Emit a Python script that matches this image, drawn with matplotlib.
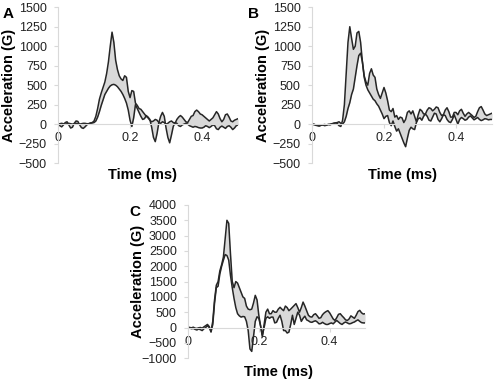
import numpy as np
import matplotlib
matplotlib.use("Agg")
import matplotlib.pyplot as plt

plt.rcParams['font.family'] = ['Liberation Sans', 'DejaVu Sans']

# time axis (ms), 0.005 ms steps
t = np.round(np.arange(0, 0.5001, 0.005), 3)

# panel A
a_peak = [0, -20, -35, -10, 20, 30, -10, -50, -40, 10,
          40, 35, -10, -45, -55, -35, -10, 5, 15, 20,
          40, 100, 200, 320, 400, 470, 540, 650, 800, 1000,
          1180, 1050, 820, 700, 620, 580, 560, 620, 600, 420,
          340, 430, 420, 270, 240, 200, 190, 160, 130, 100,
          80, 50, 30, 40, 60, 50, 20, 10, 30, 20,
          0, 10, 30, 40, 20, 10, 60, 90, 110, 90,
          60, 30, 20, 60, 100, 110, 160, 180, 160, 130,
          120, 100, 80, 60, 40, 60, 80, 120, 160, 130,
          70, 30, 60, 120, 130, 90, 40, 30, 50, 60, 70]
a_low = [0, 5, 10, 5, 0, 5, 10, 5, 0, 5,
         10, 5, 0, 5, 10, 10, 5, 5, 10, 15,
         20, 40, 90, 160, 240, 310, 380, 420, 460, 490,
         505, 510, 500, 480, 450, 420, 380, 330, 270, 180,
         50, -30, 80, 250, 200, 150, 100, 60, 70, 110,
         90, 60, -40, -170, -225, -120, 20, 100, 150, 100,
         -50, -170, -240, -140, -30, 20, 10, -20, -30, -10,
         0, 10, 0, -20, -30, -40, -30, -35, -45, -50,
         -50, -40, -20, -30, -45, -30, -10, -20, -60, -70,
         -40, -25, -40, -55, -30, -20, -40, -70, -50, -20, -10]

# panel B
b_peak = [-10, -5, -15, -20, -25, -15, -10, -20, -15, -5,
          -10, 0, 10, 15, 10, -20, -30, 50, 250, 650,
          1050, 1250, 1100, 960, 1000, 1170, 1190, 1050, 800, 620,
          540, 500, 650, 710, 630, 600, 450, 380, 330, 400,
          470, 400, 300, 180, 160, 200, 90, 110, 60, 90,
          80, 20, 60, 150, 170, 130, 170, 100, 30, 120,
          190, 170, 130, 130, 180, 210, 200, 170, 190, 220,
          210, 150, 110, 120, 180, 210, 160, 90, 90, 150,
          150, 120, 170, 190, 140, 100, 130, 150, 130, 110,
          85, 100, 160, 210, 225, 180, 130, 110, 120, 130, 140]
b_low = [-5, 0, -10, -15, -20, -15, -10, -5, -10, -5,
         0, 5, 10, 15, 20, 30, 10, 0, 30, 100,
         200, 275, 380, 450, 600, 750, 880, 910, 800, 600,
         500, 440, 400, 360, 320, 300, 260, 230, 180, 130,
         70, 100, 110, 20, -20, 40, -30, -90, -60, -120,
         -180, -240, -290, -180, -80, -40, -60, -70, 20, 70,
         80, 50, 100, 130, 100, 50, 40, 90, 140, 130,
         60, 30, 70, 120, 110, 60, 30, 20, 60, 120,
         60, 0, 60, 85, 70, 50, 60, 90, 105, 80,
         55, 70, 85, 60, 45, 55, 70, 65, 55, 60, 60]

# panel C
c_peak = [0, -20, -40, -30, -60, -80, -50, -70, -100, -40,
          0, 60, 0, -120, 200, 900, 1380, 1500, 1850, 2050,
          2300, 2900, 3500, 3400, 2400, 1500, 1300, 1500, 1450, 1300,
          1150, 1000, 950, 700, 600, 580, 600, 800, 1050, 900,
          400, 50, -300, 100, 500, 600, 450, 450, 550, 500,
          500, 600, 660, 600, 550, 700, 650, 550, 600, 660,
          720, 780, 650, 500, 650, 830, 700, 550, 400, 350,
          340, 420, 450, 380, 300, 320, 420, 480, 520, 550,
          480, 380, 280, 230, 320, 430, 450, 380, 320, 250,
          230, 280, 380, 340, 300, 400, 520, 560, 480, 440, 450]
c_low = [20, 0, -10, 10, -20, -30, -10, 0, -20, 20,
         60, 100, 30, -150, 100, 800, 1300, 1350, 1750, 2000,
         2200, 2380, 2350, 2200, 1700, 1300, 950, 650, 450, 380,
         340, 360, 350, 200, -100, -700, -780, -300, 200, 350,
         300, 50, -250, 0, 300, 350, 300, 340, 340, 150,
         170, 300, 400, 200, -100, -100, -180, -150, 100, 400,
         100, 300, 500, 400, 200, 300, 370, 250, 220, 180,
         170, 200, 220, 180, 120, 130, 170, 130, 100, 100,
         130, 150, 120, 180, 230, 180, 130, 100, 150, 180,
         150, 120, 130, 160, 180, 220, 250, 200, 160, 150, 150]

# letter, axes rect, upper, lower, ylim, yticks, ylabel x, letter x, xlabel (x, y)
panels = [
    ("A", [0.117, 0.572, 0.363, 0.409], a_peak, a_low, (-500, 1500),
     np.arange(-500, 1501, 250), -0.235, -0.305, (0.467, -0.03)),
    ("B", [0.629, 0.572, 0.363, 0.409], b_peak, b_low, (-500, 1500),
     np.arange(-500, 1501, 250), -0.235, -0.355, (0.5, -0.03)),
    ("C", [0.379, 0.060, 0.357, 0.402], c_peak, c_low, (-1000, 4000),
     np.arange(-1000, 4001, 500), -0.245, -0.33, (0.51, -0.045)),
]

fig = plt.figure(figsize=(4.96, 3.81), dpi=100)
grid = '#d9d9d9'

for letter, pos, up, lo, ylim, yticks, ylx, ltx, xl in panels:
    ax = fig.add_axes(pos)
    ax.fill_between(t, up, lo, color='#d9d9d9', lw=0)
    ax.plot(t, up, color='#262626', lw=1.1)
    ax.plot(t, lo, color='#262626', lw=1.1)
    ax.set_xlim(0, 0.5)
    ax.set_ylim(*ylim)
    ax.set_yticks(yticks)
    ax.set_xticks([0, 0.2, 0.4])
    ax.set_xticklabels(['0', '0.2', '0.4'])
    for s in ['top', 'right']:
        ax.spines[s].set_visible(False)
    ax.spines['bottom'].set_position(('data', 0))
    ax.spines['bottom'].set_color(grid)
    ax.spines['left'].set_color(grid)
    ax.tick_params(axis='y', colors=grid, labelcolor='#222222', labelsize=9,
                   length=3, pad=5)
    ax.tick_params(axis='x', colors=grid, labelcolor='#222222', labelsize=9,
                   length=3, pad=3)
    ax.set_ylabel('Acceleration (G)', fontsize=10.5, fontweight='bold')
    ax.yaxis.set_label_coords(ylx, 0.5)
    ax.set_xlabel('Time (ms)', fontsize=10.5, fontweight='bold')
    ax.xaxis.set_label_coords(*xl)
    ax.text(ltx, 1.0, letter, transform=ax.transAxes, fontsize=11,
            fontweight='bold', va='top', ha='left')

fig.savefig('out.png', dpi=100)
